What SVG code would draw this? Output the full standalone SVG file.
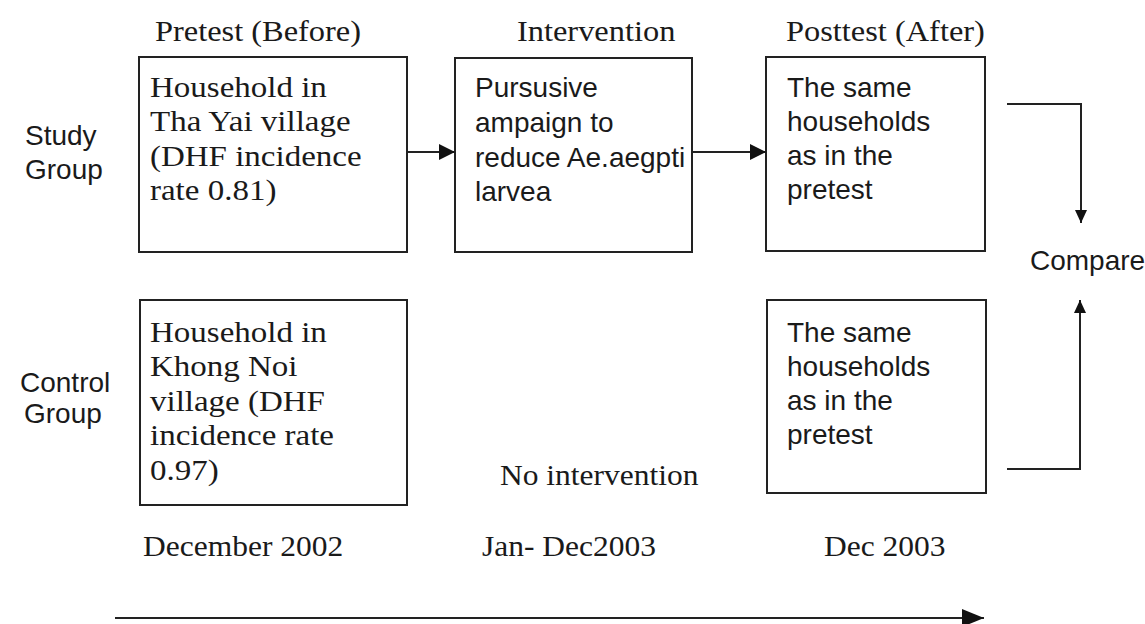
<svg xmlns="http://www.w3.org/2000/svg" width="1145" height="624" viewBox="0 0 1145 624">
<style>
  .box { fill: #fff; stroke: #222; stroke-width: 2; }
  .serif { font-family: "Liberation Serif", "Times New Roman", serif; font-size: 30px; fill: #1a1a1a; }
  .sans { font-family: "Liberation Sans", Arial, sans-serif; font-size: 28px; fill: #1a1a1a; }
  .conn { fill: none; stroke: #222; stroke-width: 2; }
</style>
<defs>
  <marker id="ah" markerUnits="userSpaceOnUse" markerWidth="17" markerHeight="16" refX="16" refY="8" orient="auto">
    <path d="M0,0 L16,8 L0,16 z" fill="#111"/>
  </marker>
  <marker id="ahs" markerUnits="userSpaceOnUse" markerWidth="14" markerHeight="12" refX="13" refY="6" orient="auto">
    <path d="M0,0 L13,6 L0,12 z" fill="#111"/>
  </marker>
  <marker id="ahb" markerUnits="userSpaceOnUse" markerWidth="23" markerHeight="18" refX="22" refY="9" orient="auto">
    <path d="M0,0 L22,9 L0,18 z" fill="#111"/>
  </marker>
</defs>
<rect width="1145" height="624" fill="#fff"/>

<g id="headers">
  <text class="serif" transform="translate(155 41) scale(1.08 1)">Pretest (Before)</text>
  <text class="serif" transform="translate(517 41) scale(1.08 1)">Intervention</text>
  <text class="serif" transform="translate(786 41) scale(1.08 1)">Posttest (After)</text>
</g>

<g id="label-study">
  <text class="sans" x="25" y="145">Study</text>
  <text class="sans" x="25" y="179">Group</text>
</g>
<g id="label-control">
  <text class="sans" x="20" y="392">Control</text>
  <text class="sans" x="24" y="423">Group</text>
</g>

<g id="study-pretest">
  <rect class="box" x="139" y="57" width="268" height="195"/>
  <text class="serif" transform="translate(150 97) scale(1.1 1)">
    <tspan x="0" y="0">Household in</tspan>
    <tspan x="0" y="34.5">Tha Yai village</tspan>
    <tspan x="0" y="69">(DHF incidence</tspan>
    <tspan x="0" y="103">rate 0.81)</tspan>
  </text>
</g>

<g id="study-intervention">
  <rect class="box" x="455" y="58" width="237" height="194"/>
  <text class="sans">
    <tspan x="475" y="97">Pursusive</tspan>
    <tspan x="475" y="132">ampaign to</tspan>
    <tspan x="475" y="167">reduce Ae.aegpti</tspan>
    <tspan x="475" y="201">larvea</tspan>
  </text>
</g>

<g id="study-posttest">
  <rect class="box" x="766" y="57" width="219" height="194"/>
  <text class="sans">
    <tspan x="787" y="97">The same</tspan>
    <tspan x="787" y="131">households</tspan>
    <tspan x="787" y="165">as in the</tspan>
    <tspan x="787" y="199">pretest</tspan>
  </text>
</g>

<g id="control-pretest">
  <rect class="box" x="140" y="300" width="267" height="205"/>
  <text class="serif" transform="translate(150 342) scale(1.1 1)">
    <tspan x="0" y="0">Household in</tspan>
    <tspan x="0" y="34.5">Khong Noi</tspan>
    <tspan x="0" y="69">village (DHF</tspan>
    <tspan x="0" y="103.5">incidence rate</tspan>
    <tspan x="0" y="138">0.97)</tspan>
  </text>
</g>

<g id="control-posttest">
  <rect class="box" x="767" y="300" width="219" height="193"/>
  <text class="sans">
    <tspan x="787" y="342">The same</tspan>
    <tspan x="787" y="376">households</tspan>
    <tspan x="787" y="410">as in the</tspan>
    <tspan x="787" y="444">pretest</tspan>
  </text>
</g>

<g id="no-intervention">
  <text class="serif" transform="translate(500 485) scale(1.05 1)">No intervention</text>
</g>

<g id="compare">
  <text class="sans" x="1030" y="270">Compare</text>
</g>

<g id="dates">
  <text class="serif" transform="translate(143 556) scale(1.05 1)">December 2002</text>
  <text class="serif" transform="translate(482 556) scale(1.05 1)">Jan- Dec2003</text>
  <text class="serif" transform="translate(824 556) scale(1.05 1)">Dec 2003</text>
</g>

<g id="connectors">
  <line class="conn" x1="407" y1="152" x2="455" y2="152" marker-end="url(#ah)"/>
  <line class="conn" x1="692" y1="152" x2="766" y2="152" marker-end="url(#ah)"/>
  <polyline class="conn" points="1007,104 1081,104 1081,223" marker-end="url(#ahs)"/>
  <polyline class="conn" points="1007,469 1080,469 1080,300" marker-end="url(#ahs)"/>
  <line class="conn" x1="115" y1="618" x2="984" y2="618" stroke-width="3" marker-end="url(#ahb)"/>
</g>
</svg>
